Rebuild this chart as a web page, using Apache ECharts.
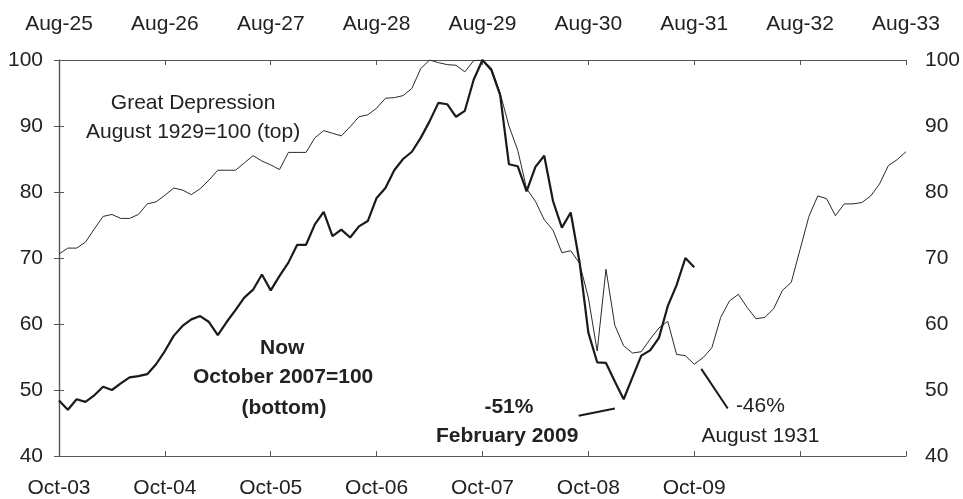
<!DOCTYPE html>
<html><head><meta charset="utf-8">
<script src="https://cdn.jsdelivr.net/npm/echarts@6/dist/echarts.min.js"></script>
<style>html,body{margin:0;padding:0;background:#fff}#c{width:963px;height:499px}</style>
</head><body><div id="c"></div>
<script>
// Months since Oct-2003 (bottom axis) / Aug-1925 (top axis)
const bottomLabels = ['Oct-03','Oct-04','Oct-05','Oct-06','Oct-07','Oct-08','Oct-09','',''];
const topLabels = ['Aug-25','Aug-26','Aug-27','Aug-28','Aug-29','Aug-30','Aug-31','Aug-32','Aug-33'];
const yTicks = [40,50,60,70,80,90,100];

// Great Depression, August 1929 = 100, monthly from Aug-1925
const depression = [70.6,71.5,71.5,72.4,74.4,76.3,76.6,76.0,76.0,76.6,78.2,78.5,79.5,80.6,80.3,79.6,
  80.5,81.8,83.3,83.3,83.3,84.4,85.5,84.7,84.1,83.4,86.0,86.0,86.0,88.2,89.3,88.9,88.5,89.9,91.4,91.7,
  92.7,94.2,94.3,94.6,95.7,98.7,100,99.6,99.3,99.2,98.2,99.9,100,98.8,95.0,90.0,86.3,80.5,78.6,75.8,
  74.2,70.8,71.1,69.2,64.0,55.9,68.3,59.8,56.7,55.6,55.8,57.7,59.4,60.4,55.4,55.2,53.9,54.9,56.4,61.0,
  63.5,64.5,62.5,60.8,61.0,62.3,65.1,66.3,71.3,76.3,79.4,79.0,76.4,78.2,78.2,78.4,79.4,81.2,84.0,84.9,86.1];

// Now, October 2007 = 100, monthly from Oct-2003
const now = [48.4,47.0,48.6,48.2,49.2,50.5,50.0,51.0,51.9,52.1,52.4,53.9,55.9,58.2,59.7,60.7,61.2,60.3,
  58.3,60.3,62.1,64.0,65.2,67.5,65.1,67.3,69.3,72.0,72.0,75.1,77.0,73.3,74.3,73.1,74.8,75.6,79.1,80.6,
  83.3,85.0,86.1,88.2,90.7,93.5,93.3,91.4,92.3,97.0,100,98.5,94.7,84.2,83.9,80.1,83.8,85.5,78.6,74.6,
  76.9,69.4,58.7,54.2,54.1,51.3,48.6,51.9,55.2,56.0,57.9,62.7,65.9,70.0,68.6];

const FONT = "'Liberation Sans', Arial, sans-serif";
const TXT = '#222';
const AX = '#555';

const chart = echarts.init(document.getElementById('c'), null, {renderer:'canvas'});

function xAxisDef(pos, labels) {
  return {
    type:'value', position:pos, min:0, max:96, interval:12,
    axisLine:{show:true, lineStyle:{color:AX, width:1.2}},
    axisTick:{show:true, inside:true, length:5, lineStyle:{color:AX}},
    splitLine:{show:false},
    axisLabel:{show:true, margin:pos==='top'?25:22, color:TXT, fontSize:21, fontFamily:FONT,
      showMinLabel:true, showMaxLabel:true,
      formatter:function(v){ return labels[Math.round(v/12)] || ''; }}
  };
}
function yAxisDef(pos) {
  return {
    type:'value', position:pos, min:40, max:100, interval:10,
    axisLine:{show:true, lineStyle:{color:AX, width:1.2}},
    axisTick:{show:true, inside:true, length:5, lineStyle:{color:AX}},
    splitLine:{show:false},
    axisLabel:{show:true, margin:pos==='left'?16:19, color:TXT, fontSize:21, fontFamily:FONT,
      formatter:function(v){ return yTicks.indexOf(v)>=0 ? String(v) : ''; }}
  };
}

chart.setOption({
  animation:false,
  backgroundColor:'#fff',
  grid:{left:59, right:55, top:60, bottom:42, containLabel:false},
  xAxis:[xAxisDef('bottom', bottomLabels), xAxisDef('top', topLabels)],
  yAxis:[yAxisDef('left'), yAxisDef('right')],
  series:[
    {type:'line', name:'Great Depression', xAxisIndex:1, yAxisIndex:1, showSymbol:false,
     data:depression.map((v,i)=>[i,v]), lineStyle:{color:'#2a2a2a', width:1}, z:2},
    {type:'line', name:'Now', xAxisIndex:0, yAxisIndex:0, showSymbol:false,
     data:now.map((v,i)=>[i,v]), lineStyle:{color:'#1a1a1a', width:2.2}, z:3}
  ]
});

// Annotations placed in data coordinates (month, value)
const notes = [
  {t:'Great Depression', p:[15.2,93.5], bold:false},
  {t:'August 1929=100 (top)', p:[15.2,89.0], bold:false},
  {t:'Now', p:[25.3,56.3], bold:true},
  {t:'October 2007=100', p:[25.4,51.9], bold:true},
  {t:'(bottom)', p:[25.5,47.3], bold:true},
  {t:'-51%', p:[51.0,47.4], bold:true},
  {t:'February 2009', p:[50.8,43.0], bold:true},
  {t:'-46%', p:[79.5,47.6], bold:false},
  {t:'August 1931', p:[79.5,43.0], bold:false}
];
const leaders = [
  [[58.9,46.1],[63.0,47.2]],
  [[72.8,53.2],[75.8,47.2]]
];
function px(p){ return chart.convertToPixel({xAxisIndex:0, yAxisIndex:0}, p); }
const g = [];
notes.forEach(n=>{
  const q = px(n.p);
  g.push({type:'text', x:q[0], y:q[1], z:10, style:{text:n.t, fill:TXT,
    font:(n.bold?'bold ':'')+'21px '+FONT, textAlign:'center', textVerticalAlign:'middle'}});
});
leaders.forEach(l=>{
  const a = px(l[0]), b = px(l[1]);
  g.push({type:'line', z:10, shape:{x1:a[0], y1:a[1], x2:b[0], y2:b[1]}, style:{stroke:'#1a1a1a', lineWidth:2}});
});
chart.setOption({graphic:g});
</script></body></html>
